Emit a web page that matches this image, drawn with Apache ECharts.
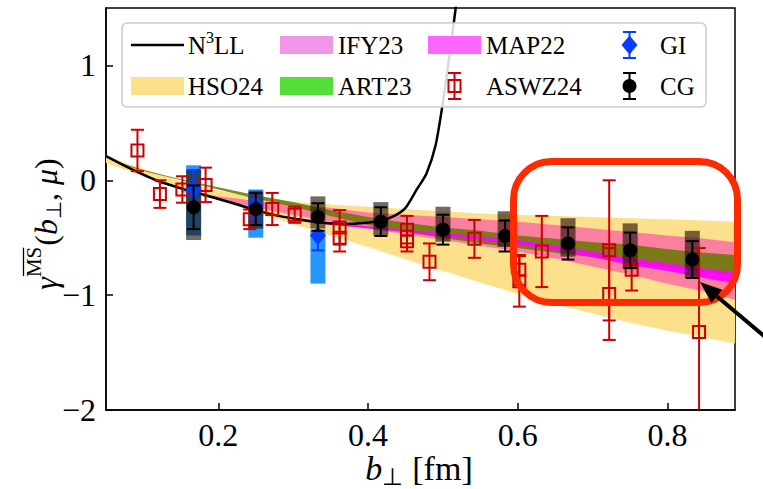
<!DOCTYPE html>
<html><head><meta charset="utf-8">
<script src="https://cdn.jsdelivr.net/npm/echarts@6/dist/echarts.min.js"></script>
<style>html,body{margin:0;padding:0;background:#fff}#c{width:763px;height:489px}</style>
</head><body><div id="c"></div>
<script>
// ---------------- data ----------------
const xTicks = [0.2, 0.4, 0.6, 0.8];
const yTicks = [-2, -1, 0, 1];
const legendNames = ['N3LL', 'IFY23', 'MAP22', 'GI', 'HSO24', 'ART23', 'ASWZ24', 'CG'];

const n3llB   = [0.05,0.08,0.117,0.15,0.183,0.22,0.25,0.28,0.317,0.34,0.367,0.39,0.418,0.435,0.45,0.465,0.478,0.49,0.5,0.508,0.517,0.522];
const n3llVal = [0.21,0.11,0.0,-0.07,-0.13,-0.20,-0.26,-0.31,-0.35,-0.37,-0.38,-0.375,-0.35,-0.31,-0.24,-0.08,0.06,0.30,0.68,1.05,1.5,1.8];

const hsoB  = [0.05,0.08,0.1,0.15,0.2,0.25,0.3,0.35,0.4,0.45,0.5,0.55,0.6,0.65,0.7,0.75,0.8,0.85,0.89];
const hsoHi = [0.22,0.14,0.10,-0.01,-0.09,-0.15,-0.19,-0.21,-0.23,-0.25,-0.27,-0.29,-0.30,-0.31,-0.32,-0.33,-0.34,-0.35,-0.36];
const hsoLo = [0.15,0.08,0.03,-0.07,-0.17,-0.28,-0.38,-0.48,-0.58,-0.69,-0.79,-0.89,-0.99,-1.08,-1.16,-1.24,-1.31,-1.37,-1.42];

const ifyB  = [0.15,0.2,0.25,0.3,0.35,0.4,0.45,0.5,0.55,0.6,0.65,0.7,0.75,0.8,0.85,0.89];
const ifyHi = [-0.09,-0.14,-0.18,-0.21,-0.24,-0.28,-0.30,-0.32,-0.34,-0.36,-0.39,-0.42,-0.45,-0.48,-0.51,-0.54];
const ifyLo = [-0.10,-0.17,-0.24,-0.30,-0.36,-0.42,-0.47,-0.52,-0.57,-0.62,-0.68,-0.75,-0.82,-0.90,-0.97,-1.04];

const artB  = [0.07,0.1,0.15,0.2,0.25,0.3,0.35,0.4,0.45,0.5,0.55,0.6,0.65,0.7,0.75,0.8,0.85,0.89];
const artHi = [0.15,0.09,0.01,-0.06,-0.13,-0.19,-0.26,-0.32,-0.37,-0.41,-0.44,-0.48,-0.51,-0.54,-0.56,-0.60,-0.63,-0.65];
const artLo = [0.14,0.08,0.0,-0.08,-0.16,-0.23,-0.31,-0.39,-0.45,-0.50,-0.55,-0.59,-0.63,-0.67,-0.72,-0.76,-0.80,-0.83];

const mapB  = [0.3,0.35,0.4,0.45,0.5,0.55,0.6,0.65,0.7,0.75,0.8,0.85,0.89];
const mapHi = [-0.33,-0.37,-0.40,-0.43,-0.46,-0.49,-0.52,-0.57,-0.62,-0.68,-0.72,-0.77,-0.80];
const mapLo = [-0.35,-0.39,-0.42,-0.45,-0.49,-0.52,-0.56,-0.61,-0.67,-0.74,-0.79,-0.85,-0.90];

const aswzB   = [0.092,0.122,0.152,0.183,0.242,0.272,0.302,0.362,0.362,0.452,0.452,0.482,0.542,0.602,0.602,0.632,0.722,0.722,0.752,0.842];
const aswzVal = [0.26,-0.12,-0.08,-0.04,-0.34,-0.25,-0.30,-0.41,-0.50,-0.43,-0.53,-0.71,-0.51,-0.78,-0.88,-0.62,-0.61,-0.99,-0.78,-1.32];
const aswzErr = [0.18,0.12,0.115,0.15,0.085,0.14,0.07,0.15,0.12,0.12,0.09,0.16,0.165,0.13,0.22,0.31,0.61,0.40,0.18,0.73];

const cgB     = [0.167,0.25,0.333,0.417,0.5,0.583,0.667,0.75,0.833];
const cgVal   = [-0.235,-0.25,-0.32,-0.36,-0.43,-0.485,-0.55,-0.61,-0.69];
const cgErr   = [0.19,0.14,0.12,0.125,0.13,0.135,0.14,0.155,0.16];
const cgSysHi = [0.09,-0.10,-0.14,-0.19,-0.23,-0.27,-0.33,-0.375,-0.44];
const cgSysLo = [-0.52,-0.42,-0.42,-0.48,-0.535,-0.58,-0.665,-0.77,-0.85];

const giB     = [0.167,0.25,0.333];
const giVal   = [-0.08,-0.215,-0.48];
const giErr   = [0.17,0.115,0.13];
const giSysHi = [0.13,-0.08,-0.43];
const giSysLo = [-0.48,-0.50,-0.90];

// ---------------- helpers ----------------
const X_MIN = 0.05, X_MAX = 0.89, Y_MIN = -2, Y_MAX = 1.5;
const SERIF = 'Liberation Serif, Times New Roman, serif';
const mctx = document.createElement('canvas').getContext('2d');
function tw(t, font) { mctx.font = font; return mctx.measureText(t).width; }

function bandSeries(name, bs, lo, hi, color, z) {
  return {
    type: 'custom', name: name, z: z, silent: true,
    data: bs.map((b, i) => [b, lo[i], hi[i]]),
    renderItem: function (params, api) {
      if (params.dataIndex !== 0) return null;
      const pts = [];
      for (let i = 0; i < bs.length; i++) pts.push(api.coord([bs[i], hi[i]]));
      for (let i = bs.length - 1; i >= 0; i--) pts.push(api.coord([bs[i], lo[i]]));
      return { type: 'polygon', shape: { points: pts }, style: { fill: color, stroke: null } };
    }
  };
}

function boxSeries(name, bs, lo, hi, color, z) {
  return {
    type: 'custom', name: name, z: z, silent: true,
    data: bs.map((b, i) => [b, lo[i], hi[i]]),
    renderItem: function (params, api) {
      const b = api.value(0);
      const a = api.coord([b, api.value(2)]);
      const d = api.coord([b, api.value(1)]);
      return { type: 'rect', shape: { x: a[0] - 7.5, y: a[1], width: 15, height: d[1] - a[1] },
               style: { fill: color, stroke: null } };
    }
  };
}

function errSeries(name, bs, vals, errs, color, marker, z) {
  return {
    type: 'custom', name: name, z: z, silent: true,
    data: bs.map((b, i) => [b, vals[i], errs[i]]),
    renderItem: function (params, api) {
      const b = api.value(0), v = api.value(1), e = api.value(2);
      const c = api.coord([b, v]);
      const tv = Math.min(v + e, Y_MAX), bv = Math.max(v - e, Y_MIN);
      const t = api.coord([b, tv]), d = api.coord([b, bv]);
      const st = { stroke: color, lineWidth: 2, fill: null };
      const ch = [{ type: 'line', shape: { x1: c[0], y1: t[1], x2: c[0], y2: d[1] }, style: st }];
      const cw = 6.5;
      if (v + e <= Y_MAX) ch.push({ type: 'line', shape: { x1: c[0] - cw, y1: t[1], x2: c[0] + cw, y2: t[1] }, style: st });
      if (v - e >= Y_MIN) ch.push({ type: 'line', shape: { x1: c[0] - cw, y1: d[1], x2: c[0] + cw, y2: d[1] }, style: st });
      ch.push(markerShape(marker, c[0], c[1], color));
      return { type: 'group', children: ch };
    }
  };
}

function markerShape(marker, x, y, color) {
  if (marker === 'square') return { type: 'rect', shape: { x: x - 6, y: y - 6, width: 12, height: 12 }, style: { fill: null, stroke: color, lineWidth: 2 } };
  if (marker === 'diamond') return { type: 'polygon', shape: { points: [[x, y - 9.5], [x + 8, y], [x, y + 9.5], [x - 8, y]] }, style: { fill: color, stroke: null } };
  return { type: 'circle', shape: { cx: x, cy: y, r: 7 }, style: { fill: color, stroke: null } };
}

function textEl(t, x, y, font, extra) {
  return Object.assign({ type: 'text', x: x, y: y, z: 100,
    style: { text: t, font: font, fill: '#000', textAlign: 'left', textVerticalAlign: 'middle' } }, extra || {});
}

// pieces: {t, font, dy, over}
function composite(pieces, cx, cy, rotation) {
  let W = 0;
  pieces.forEach(p => { p.w = tw(p.t, p.font); W += p.w + (p.gap || 0); });
  let x = -W / 2;
  const ch = [];
  pieces.forEach(p => {
    ch.push({ type: 'text', x: x, y: p.dy || 0,
      style: { text: p.t, font: p.font, fill: '#000', textAlign: 'left', textVerticalAlign: 'middle' } });
    if (p.over) ch.push({ type: 'line', shape: { x1: x + 1, y1: (p.dy || 0) - 10.5, x2: x + p.w - 1, y2: (p.dy || 0) - 10.5 },
      style: { stroke: '#000', lineWidth: 1.3 } });
    x += p.w + (p.gap || 0);
  });
  return { type: 'group', x: cx, y: cy, rotation: rotation, z: 100, children: ch };
}

// ---------------- colors ----------------
const C_HSO = '#fde08b', C_IFY = 'rgba(250,103,164,0.8)', C_ART = 'rgba(100,120,0,0.85)', C_MAP = 'rgba(255,0,255,0.9)';
const C_RED = '#cc0000', C_BLUE = '#0a3cff', C_GIBOX = 'rgba(30,144,255,0.95)', C_CGBOX = 'rgba(30,15,0,0.62)';

// ---------------- legend graphic ----------------
const LF = '25px ' + SERIF;
const rowY = [45, 86];
const hx = [131, 280, 428, 603], hw = 53;
const txX = [188, 338, 486, 660];
const legend = [];
legend.push({ type: 'rect', z: 99, shape: { x: 122, y: 23, width: 584, height: 84, r: 5 },
  style: { fill: 'rgba(255,255,255,0.85)', stroke: '#cccccc', lineWidth: 1.5 } });
function patch(col, row, color) {
  legend.push({ type: 'rect', z: 100, shape: { x: hx[col], y: rowY[row] - 9, width: hw, height: 18 }, style: { fill: color } });
}
function lgMarker(col, row, marker, color) {
  const x = hx[col] + hw / 2, y = rowY[row];
  const st = { stroke: color, lineWidth: 2 };
  legend.push({ type: 'line', z: 100, shape: { x1: x, y1: y - 13, x2: x, y2: y + 13 }, style: st });
  legend.push({ type: 'line', z: 100, shape: { x1: x - 6.5, y1: y - 13, x2: x + 6.5, y2: y - 13 }, style: st });
  legend.push({ type: 'line', z: 100, shape: { x1: x - 6.5, y1: y + 13, x2: x + 6.5, y2: y + 13 }, style: st });
  const m = markerShape(marker, x, y, color); m.z = 101; legend.push(m);
}
// row 1
legend.push({ type: 'line', z: 100, shape: { x1: hx[0], y1: rowY[0], x2: hx[0] + hw, y2: rowY[0] }, style: { stroke: '#000', lineWidth: 2.5 } });
(function () {
  const wN = tw('N', LF), w3 = tw('3', '16px ' + SERIF);
  legend.push(textEl('N', txX[0], rowY[0], LF));
  legend.push(textEl('3', txX[0] + wN, rowY[0] - 8, '16px ' + SERIF));
  legend.push(textEl('LL', txX[0] + wN + w3, rowY[0], LF));
})();
patch(1, 0, '#f096e8'); legend.push(textEl(legendNames[1], txX[1], rowY[0], LF));
patch(2, 0, '#ff66ff'); legend.push(textEl(legendNames[2], txX[2], rowY[0], LF));
lgMarker(3, 0, 'diamond', C_BLUE); legend.push(textEl(legendNames[3], txX[3], rowY[0], LF));
// row 2
patch(0, 1, '#fde08a'); legend.push(textEl(legendNames[4], txX[0], rowY[1], LF));
patch(1, 1, '#55dd3a'); legend.push(textEl(legendNames[5], txX[1], rowY[1], LF));
lgMarker(2, 1, 'square', C_RED); legend.push(textEl(legendNames[6], txX[2], rowY[1], LF));
lgMarker(3, 1, 'circle', '#000'); legend.push(textEl(legendNames[7], txX[3], rowY[1], LF));

// ---------------- axis titles ----------------
const F32 = '32px ' + SERIF, I32 = 'italic 32px ' + SERIF, F21 = '21px ' + SERIF;
const F34 = '34px ' + SERIF, I34 = 'italic 34px ' + SERIF, F24 = '24px ' + SERIF;
const yTitle = composite([
  { t: 'γ', font: I32 },
  { t: 'MS', font: F21, dy: -12, over: true, gap: 1 },
  { t: '(', font: F32 },
  { t: 'b', font: I32 },
  { t: '⊥', font: F21, dy: 8 },
  { t: ', ', font: F32 },
  { t: 'μ', font: I32 },
  { t: ')', font: F32 }
], 46, 224, Math.PI / 2);
const xTitle = composite([
  { t: 'b', font: I34 },
  { t: '⊥', font: F24, dy: 9, gap: 9 },
  { t: '[fm]', font: F34 }
], 419, 468, 0);

// ---------------- annotation ----------------
const tip = [700, 282], dir = [0.765, 0.644], perp = [-0.644, 0.765];
const hl = 22, hwid = 8.5;
const base = [tip[0] + dir[0] * hl, tip[1] + dir[1] * hl];
const annot = [
  { type: 'rect', z: 110, shape: { x: 513.5, y: 161.5, width: 224, height: 141, r: 38 },
    style: { fill: null, stroke: '#ff2a00', lineWidth: 7 } },
  { type: 'line', z: 111, shape: { x1: base[0], y1: base[1], x2: tip[0] + dir[0] * 110, y2: tip[1] + dir[1] * 110 },
    style: { stroke: '#000', lineWidth: 4 } },
  { type: 'polygon', z: 112, shape: { points: [tip,
      [base[0] + perp[0] * hwid, base[1] + perp[1] * hwid],
      [base[0] - perp[0] * hwid, base[1] - perp[1] * hwid]] }, style: { fill: '#000' } }
];

// ---------------- chart ----------------
const chart = echarts.init(document.getElementById('c'), null, { renderer: 'svg' });
const fmt = v => (v < 0 ? '\u2212' + Math.abs(v) : String(v));
chart.setOption({
  animation: false,
  backgroundColor: '#fff',
  grid: { left: 106, right: 28, top: 8, bottom: 79, show: true, borderColor: '#000', borderWidth: 1.5, backgroundColor: 'transparent' },
  xAxis: {
    type: 'value', min: X_MIN, max: X_MAX,
    axisLine: { show: true, onZero: false, lineStyle: { color: '#000', width: 1.5 } },
    axisTick: { show: true, inside: true, length: 7, customValues: xTicks, lineStyle: { color: '#000', width: 1.5 } },
    axisLabel: { customValues: xTicks, fontFamily: SERIF, fontSize: 32, color: '#000', margin: 9, formatter: v => String(v) },
    splitLine: { show: false }
  },
  yAxis: {
    type: 'value', min: Y_MIN, max: Y_MAX,
    axisLine: { show: true, onZero: false, lineStyle: { color: '#000', width: 1.5 } },
    axisTick: { show: true, inside: true, length: 7, customValues: yTicks, lineStyle: { color: '#000', width: 1.5 } },
    axisLabel: { customValues: yTicks, fontFamily: SERIF, fontSize: 32, color: '#000', margin: 10, formatter: fmt },
    splitLine: { show: false }
  },
  series: [
    bandSeries('HSO24', hsoB, hsoLo, hsoHi, C_HSO, 1),
    bandSeries('IFY23', ifyB, ifyLo, ifyHi, C_IFY, 2),
    bandSeries('ART23', artB, artLo, artHi, C_ART, 3),
    bandSeries('MAP22', mapB, mapLo, mapHi, C_MAP, 4),
    { type: 'line', name: 'N3LL', z: 5, data: n3llB.map((b, i) => [b, n3llVal[i]]), showSymbol: false, smooth: 0.25,
      clip: true, lineStyle: { color: '#000', width: 2.5 }, silent: true },
    boxSeries('GI sys', giB, giSysLo, giSysHi, C_GIBOX, 6),
    boxSeries('CG sys', cgB, cgSysLo, cgSysHi, C_CGBOX, 7),
    errSeries('ASWZ24', aswzB, aswzVal, aswzErr, C_RED, 'square', 8),
    errSeries('GI', giB, giVal, giErr, C_BLUE, 'diamond', 9),
    errSeries('CG', cgB, cgVal, cgErr, '#000', 'circle', 10)
  ],
  graphic: { elements: legend.concat([yTitle, xTitle]).concat(annot) }
});
</script></body></html>
